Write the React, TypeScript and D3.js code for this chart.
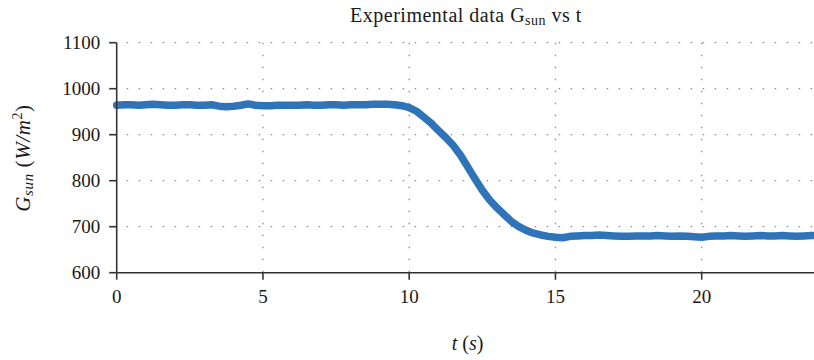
import React from "react";
import * as d3 from "d3";

const times: number[] = [
  0, 0.25, 0.5, 0.75, 1, 1.25, 1.5, 1.75, 2, 2.25, 2.5, 2.75, 3, 3.25, 3.5, 3.75,
  4, 4.25, 4.5, 4.75, 5, 5.25, 5.5, 5.75, 6, 6.25, 6.5, 6.75, 7, 7.25, 7.5, 7.75,
  8, 8.25, 8.5, 8.75, 9, 9.25, 9.5, 9.75, 10, 10.25, 10.5, 10.75, 11, 11.25, 11.5,
  11.75, 12, 12.25, 12.5, 12.75, 13, 13.25, 13.5, 13.75, 14, 14.25, 14.5, 14.75,
  15, 15.25, 15.5, 15.75, 16, 16.25, 16.5, 16.75, 17, 17.25, 17.5, 17.75, 18,
  18.25, 18.5, 18.75, 19, 19.25, 19.5, 19.75, 20, 20.25, 20.5, 20.75, 21, 21.25,
  21.5, 21.75, 22, 22.25, 22.5, 22.75, 23, 23.25, 23.5, 23.75, 24,
];

const gsun: number[] = [
  964, 965, 965, 964, 965, 966, 965, 964, 964, 965, 965, 964, 964, 965, 962, 961,
  962, 964, 967, 964, 963, 963, 964, 964, 964, 964, 965, 964, 964, 965, 965, 964,
  965, 965, 965, 966, 966, 966, 965, 963, 959, 951, 938, 925, 909, 894, 877,
  856, 830, 804, 779, 758, 741, 726, 711, 700, 692, 686, 682, 679,
  677, 676, 679, 680, 681, 681, 682, 681, 680, 679, 679, 680, 680,
  680, 681, 680, 679, 680, 679, 678, 677, 679, 680, 680, 681, 680,
  679, 680, 681, 680, 680, 681, 680, 679, 680, 681, 680,
];

const xTicks: number[] = [0, 5, 10, 15, 20];
const yTicks: number[] = [600, 700, 800, 900, 1000, 1100];

const W = 814;
const H = 360;
const left = 116.7;
const top = 42.7;
const bottom = 272.7;
const FONT = { fontFamily: "'Liberation Serif', 'Times New Roman', serif" };

export default function App() {
  const x = d3.scaleLinear().domain([0, 24]).range([left, left + 24 * 29.25]);
  const y = d3.scaleLinear().domain([600, 1100]).range([bottom, top]);
  const data = times.map((t, i) => [t, gsun[i]] as [number, number]);
  const line = d3
    .line<[number, number]>()
    .x((d) => x(d[0]))
    .y((d) => y(d[1]));
  const gridColor = "#8c8c8c";
  const axisColor = "#333";
  const textColor = "#1a1a1a";
  return (
    <svg
      width={W}
      height={H}
      style={{ position: "absolute", left: 0, top: 0, background: "#fff" }}
    >
      {yTicks
        .filter((v) => v !== 600)
        .map((v) => (
          <line
            key={"hg" + v}
            x1={left}
            x2={W}
            y1={y(v)}
            y2={y(v)}
            stroke={gridColor}
            strokeWidth={1.3}
            strokeDasharray="1.5 10.5"
            strokeDashoffset={-10}
          />
        ))}
      {xTicks
        .filter((v) => v !== 0)
        .map((v) => (
          <line
            key={"vg" + v}
            x1={x(v)}
            x2={x(v)}
            y1={top}
            y2={bottom}
            stroke={gridColor}
            strokeWidth={1.3}
            strokeDasharray="1.5 10.5"
          />
        ))}
      <path
        d={line(data) || ""}
        fill="none"
        stroke="#2f74b8"
        strokeWidth={7.5}
        strokeLinejoin="round"
        strokeLinecap="round"
      />
      <line x1={left} x2={left} y1={top} y2={bottom} stroke={axisColor} strokeWidth={1.6} />
      <line x1={left} x2={W} y1={bottom} y2={bottom} stroke={axisColor} strokeWidth={1.6} />
      {yTicks.map((v) => (
        <g key={"yt" + v}>
          <line x1={left - 7.5} x2={left} y1={y(v)} y2={y(v)} stroke={axisColor} strokeWidth={1.6} />
          <text
            x={left - 16.5}
            y={y(v)}
            dy="0.34em"
            textAnchor="end"
            fontSize={19}
            fill={textColor}
            style={FONT}
          >
            {v}
          </text>
        </g>
      ))}
      {xTicks.map((v) => (
        <g key={"xt" + v}>
          <line x1={x(v)} x2={x(v)} y1={bottom} y2={bottom + 7} stroke={axisColor} strokeWidth={1.6} />
          <text x={x(v)} y={303} textAnchor="middle" fontSize={19} fill={textColor} style={FONT}>
            {v}
          </text>
        </g>
      ))}
      <text
        x={466}
        y={21.5}
        textAnchor="middle"
        fontSize={20}
        letterSpacing={0.5}
        fill={textColor}
        style={FONT}
      >
        Experimental data G
        <tspan fontSize={14} dy={3}>sun</tspan>
        <tspan dy={-3}> vs t</tspan>
      </text>
      <text x={467.5} y={350} textAnchor="middle" fontSize={20} fill={textColor} style={FONT}>
        <tspan fontStyle="italic">t</tspan>
        <tspan> (</tspan>
        <tspan fontStyle="italic">s</tspan>
        <tspan>)</tspan>
      </text>
      <text
        transform={`translate(30,158) rotate(-90)`}
        textAnchor="middle"
        fontSize={21}
        letterSpacing={0.6}
        fill={textColor}
        style={FONT}
      >
        <tspan fontStyle="italic">G</tspan>
        <tspan fontStyle="italic" fontSize={15} dy={3}>sun</tspan>
        <tspan dy={-3}> (</tspan>
        <tspan fontStyle="italic">W/m</tspan>
        <tspan fontSize={14} dy={-8}>2</tspan>
        <tspan dy={8}>)</tspan>
      </text>
    </svg>
  );
}
